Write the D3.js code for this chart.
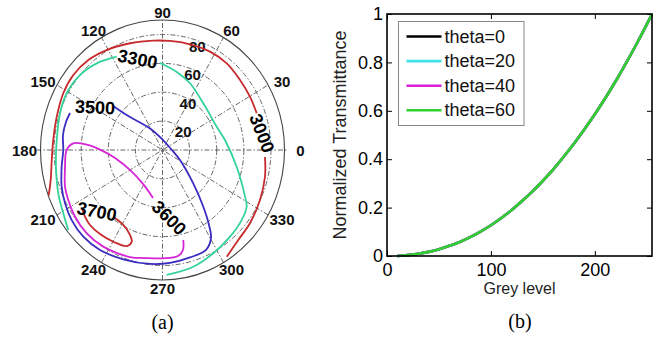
<!DOCTYPE html>
<html>
<head>
<meta charset="utf-8">
<script src="https://cdn.jsdelivr.net/npm/d3@7"></script>
<style>
  body { margin: 0; background: #fff; }
  text { font-family: "Liberation Sans", Arial, sans-serif; }
</style>
</head>
<body>
<div id="chart"></div>
<script>
// ---- (a) polar contour data, Cartesian units of the polar plane (rmax = 90)
const ringValues = [20, 40, 60, 80];
const spokeAngles = [0, 30, 60, 90, 120, 150];
const angleLabels = [0, 30, 60, 90, 120, 150, 180, 210, 240, 270, 300, 330];

const c3000a = [[-84.0,-31.5],[-82.5,-20.8],[-81.7,-6.9],[-80.6,6.9],[-78.0,23.1],[-73.2,39.3],[-65.8,51.9],[-54.7,62.3],[-41.2,69.2],[-24.0,73.9],[-6.8,75.7],[5.5,75.5],[20.3,73.2],[35.0,68.1],[47.4,60.0],[57.2,48.5],[64.5,36.9],[69.5,25.4]];
const c3000b = [[75.6,-4.8],[75.6,-18.5],[71.9,-34.6],[64.5,-50.7],[55.9,-62.3],[47.4,-73.9]];
const c3300a = [[-69.5,-55.4],[-73.2,-43.8],[-76.9,-30.0],[-78.6,-11.6],[-78.0,6.9],[-75.6,25.4],[-70.7,39.3],[-60.9,51.9],[-48.5,60.0],[-33.8,64.6]];
const c3300b = [[-1.8,60.2],[10.5,54.0],[20.3,46.2],[30.1,32.3],[40.0,16.1],[46.1,6.9],[54.7,-11.6],[60.9,-32.3],[62.1,-39.3],[58.4,-48.5],[49.8,-60.0],[37.5,-71.5],[22.7,-80.8],[3.1,-86.5]];
const c3500 = [[-36.3,30.5],[-26.4,24.2],[-9.2,14.9],[0.4,6.9],[6.3,0.7],[12.9,-6.9],[22.5,-22.8],[29.9,-38.8],[34.3,-51.9],[35.8,-60.9],[32.1,-69.2],[20.3,-74.4],[5.5,-78.2],[-9.2,-78.9],[-28.9,-75.7],[-46.1,-69.2],[-58.4,-60.0],[-67.0,-48.5],[-71.9,-36.9],[-74.4,-25.4],[-74.4,-11.6],[-73.2,0],[-73.4,10.4],[-71.2,19.4],[-68.2,25.6]];
const c3600 = [[15.3,-62.3],[15.1,-69.2],[11.4,-73.4],[0.4,-75.0],[-12.9,-74.8],[-24.0,-74.1],[-43.7,-66.9],[-55.9,-57.7],[-64.5,-46.2],[-69.5,-34.6],[-71.9,-25.4],[-71.9,-11.6],[-70.7,0],[-65.8,4.6],[-55.0,3.5],[-46.1,0.3],[-35.0,-5.5],[-24.0,-13.8],[-14.4,-23.5],[-7.0,-33.2]];
const c3700 = [[-36.3,-46.2],[-28.9,-51.9],[-24.0,-58.8],[-22.7,-63.5],[-26.4,-66.5],[-36.3,-63.5],[-46.1,-58.2],[-53.5,-51.9],[-57.2,-46.2],[-59.4,-40.2]];

const contourLabels = [
  {text: "3000", x: 73.2, y: 11.6, rot: 69},
  {text: "3300", x: -18.4, y: 62.8, rot: 11},
  {text: "3500", x: -49.8, y: 29.4, rot: 3},
  {text: "3600", x: 4.8, y: -47.1, rot: 45},
  {text: "3700", x: -48.5, y: -42.7, rot: 11}
];

// ---- (b) transmittance vs grey level
const greyLevels = [10, 20, 30, 40, 50, 60, 70, 80, 90, 100, 110, 120, 130, 140, 150, 160, 170, 180, 190, 200, 210, 220, 230, 240, 250, 255];
const transmittance = [0, 0.004, 0.009, 0.017, 0.028, 0.042, 0.058, 0.078, 0.101, 0.127, 0.157, 0.19, 0.227, 0.267, 0.311, 0.358, 0.41, 0.465, 0.524, 0.586, 0.652, 0.722, 0.797, 0.875, 0.957, 1];
const thetaNames = ["theta=0", "theta=20", "theta=40", "theta=60"];
const thetaColors = ["#000000", "#3fe3e6", "#dc22dc", "#2ed12e"];
const xTicks = [0, 100, 200];
const yTicks = [0, 0.2, 0.4, 0.6, 0.8, 1];

const width = 659, height = 339;

const svg = d3.select("#chart").append("svg")
  .attr("width", width)
  .attr("height", height);

svg.append("rect").attr("width", width).attr("height", height).attr("fill", "#fff");

// ================= (a) polar plot =================
const cx = 162.5, cy = 150;
const sx = d3.scaleLinear().domain([-90, 90]).range([cx - 122, cx + 122]);
const sy = d3.scaleLinear().domain([-90, 90]).range([cy + 130, cy - 130]);
const rad = a => a * Math.PI / 180;

const polar = svg.append("g").attr("class", "polar");

// dashed rings
polar.selectAll(".ring")
  .data(ringValues)
  .join("ellipse")
    .attr("cx", sx(0))
    .attr("cy", sy(0))
    .attr("rx", d => sx(d) - sx(0))
    .attr("ry", d => sy(0) - sy(d))
    .attr("fill", "none")
    .attr("stroke", "#555")
    .attr("stroke-width", 0.9)
    .attr("stroke-dasharray", "5,2,1.5,2");

// spokes
polar.selectAll(".spoke")
  .data(spokeAngles)
  .join("line")
    .attr("x1", d => sx(-(d === 0 ? 93 : 90) * Math.cos(rad(d))))
    .attr("y1", d => sy(-90 * Math.sin(rad(d))))
    .attr("x2", d => sx((d === 0 ? 93 : 90) * Math.cos(rad(d))))
    .attr("y2", d => sy(90 * Math.sin(rad(d))))
    .attr("stroke", "#555")
    .attr("stroke-width", 0.9)
    .attr("stroke-dasharray", "5,2,1.5,2");

// outer circle
polar.append("ellipse")
  .attr("cx", sx(0)).attr("cy", sy(0))
  .attr("rx", sx(90) - sx(0)).attr("ry", sy(0) - sy(90))
  .attr("fill", "none")
  .attr("stroke", "#444")
  .attr("stroke-width", 1.1);

// ring labels, placed along the 80 degree direction
polar.selectAll(".rlabel")
  .data(ringValues)
  .join("text")
    .attr("x", d => sx(d * Math.cos(rad(80))) + 16)
    .attr("y", d => sy(d * Math.sin(rad(80))) + 10)
    .attr("text-anchor", "middle")
    .attr("dominant-baseline", "central")
    .attr("font-size", 15)
    .attr("font-weight", "bold")
    .attr("fill", "#111")
    .text(d => d);

// angle labels
polar.selectAll(".alabel")
  .data(angleLabels)
  .join("text")
    .attr("x", d => cx + 138 * Math.cos(rad(d)))
    .attr("y", d => cy - 138 * Math.sin(rad(d)))
    .attr("text-anchor", "middle")
    .attr("dominant-baseline", "central")
    .attr("font-size", 15)
    .attr("font-weight", "bold")
    .attr("fill", "#111")
    .text(d => d);

const contourLine = d3.line()
  .x(d => sx(d[0]))
  .y(d => sy(d[1]))
  .curve(d3.curveCatmullRom.alpha(0.5));

const contours = [
  {pts: c3000a, color: "#c62a2c"},
  {pts: c3000b, color: "#c62a2c"},
  {pts: c3300a, color: "#33d39a"},
  {pts: c3300b, color: "#33d39a"},
  {pts: c3500, color: "#3a2cc0"},
  {pts: c3600, color: "#d624d6"},
  {pts: c3700, color: "#c62a2c"}
];

polar.selectAll(".contour")
  .data(contours)
  .join("path")
    .attr("d", d => contourLine(d.pts))
    .attr("fill", "none")
    .attr("stroke", d => d.color)
    .attr("stroke-width", 1.8);

polar.selectAll(".clabel")
  .data(contourLabels)
  .join("text")
    .attr("transform", d => `translate(${sx(d.x)},${sy(d.y)}) rotate(${d.rot})`)
    .attr("text-anchor", "middle")
    .attr("dominant-baseline", "central")
    .attr("font-size", 18)
    .attr("font-weight", "bold")
    .attr("fill", "#000")
    .text(d => d.text);

svg.append("text")
  .attr("x", cx).attr("y", 329)
  .attr("text-anchor", "middle")
  .style("font-family", "'Liberation Serif', 'Times New Roman', serif")
  .attr("font-size", 20)
  .text("(a)");

// ================= (b) transmittance =================
const margin = ({top: 14, right: 7, bottom: 83, left: 387});
const x = d3.scaleLinear().domain([0, 255]).range([margin.left, width - margin.right]);
const y = d3.scaleLinear().domain([0, 1]).range([height - margin.bottom, margin.top]);

const plot = svg.append("g").attr("class", "transmit");

const styleAxis = g => {
  g.select(".domain").remove();
  g.selectAll(".tick line").attr("stroke", "#000").attr("stroke-width", 1);
  g.selectAll(".tick text").attr("fill", "#000").attr("font-size", 18)
    .style("font-family", "'Liberation Sans', Arial, sans-serif");
};

plot.append("g")
  .attr("transform", `translate(0,${y(0)})`)
  .call(d3.axisBottom(x).tickValues(xTicks).tickSizeInner(-5).tickSizeOuter(0).tickPadding(7))
  .call(styleAxis);

plot.append("g")
  .attr("transform", `translate(0,${y(1)})`)
  .call(d3.axisTop(x).tickValues(xTicks).tickSizeInner(-5).tickSizeOuter(0).tickFormat(""))
  .call(styleAxis);

plot.append("g")
  .attr("transform", `translate(${x(0)},0)`)
  .call(d3.axisLeft(y).tickValues(yTicks).tickSizeInner(-5).tickSizeOuter(0).tickPadding(4).tickFormat(d3.format("~g")))
  .call(styleAxis);

plot.append("g")
  .attr("transform", `translate(${x(255)},0)`)
  .call(d3.axisRight(y).tickValues(yTicks).tickSizeInner(-5).tickSizeOuter(0).tickFormat(""))
  .call(styleAxis);

const tLine = d3.line()
  .x((d, i) => x(greyLevels[i]))
  .y(d => y(d))
  .curve(d3.curveMonotoneX);

plot.selectAll(".series")
  .data(thetaNames)
  .join("path")
    .attr("d", () => tLine(transmittance))
    .attr("fill", "none")
    .attr("stroke", (d, i) => thetaColors[i])
    .attr("stroke-width", 2.6);

// axes box
plot.append("rect")
  .attr("x", x(0)).attr("y", y(1))
  .attr("width", x(255) - x(0)).attr("height", y(0) - y(1))
  .attr("fill", "none")
  .attr("stroke", "#000")
  .attr("stroke-width", 1.6);

// legend
const legend = plot.append("g").attr("transform", "translate(398.5,21.5)");
legend.append("rect")
  .attr("width", 125.5).attr("height", 104)
  .attr("fill", "#fff")
  .attr("stroke", "#888")
  .attr("stroke-width", 1);

const entry = legend.selectAll(".entry")
  .data(thetaNames)
  .join("g")
    .attr("transform", (d, i) => `translate(0,${15 + i * 24.6})`);

entry.append("line")
  .attr("x1", 8).attr("x2", 43)
  .attr("stroke", (d, i) => thetaColors[i])
  .attr("stroke-width", 2.6);

entry.append("text")
  .attr("x", 46)
  .attr("dominant-baseline", "central")
  .attr("font-size", 18)
  .attr("fill", "#111")
  .text(d => d);

plot.append("text")
  .attr("x", (x(0) + x(255)) / 2).attr("y", 294)
  .attr("text-anchor", "middle")
  .attr("font-size", 16)
  .attr("fill", "#222")
  .text("Grey level");

plot.append("text")
  .attr("transform", `translate(346,${(y(0) + y(1)) / 2}) rotate(-90)`)
  .attr("text-anchor", "middle")
  .attr("font-size", 18)
  .attr("fill", "#222")
  .text("Normalized Transmittance");

svg.append("text")
  .attr("x", 520).attr("y", 328)
  .attr("text-anchor", "middle")
  .style("font-family", "'Liberation Serif', 'Times New Roman', serif")
  .attr("font-size", 20)
  .text("(b)");
</script>
</body>
</html>
